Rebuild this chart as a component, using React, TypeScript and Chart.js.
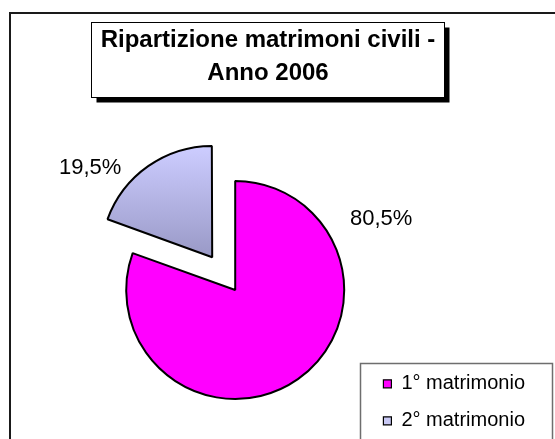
import React, { useEffect, useRef } from 'react';
import { Chart, registerables } from 'chart.js';

Chart.register(...registerables);

// ---- data ----
const categories = ['1° matrimonio', '2° matrimonio'];
const shares = [80.5, 19.5];
const titleLines = ['Ripartizione matrimoni civili -', 'Anno 2006'];

// ---- style ----
const FONT = "'Liberation Sans', Arial, Helvetica, sans-serif";
const RADIUS = 109;
const sliceOffsets = [0, 160];
const mainColor = '#ff00ff';
const gradientStops = ['#ccccff', '#9999c6'];
const legendSwatch = ['#ff00ff', '#c8c8f4'];
const labelAngles = [63.9, 306.3]; // degrees clockwise from 12 o'clock
const labelGaps = [53.6, 42.4]; // px beyond the outer radius

const TITLE_SIZE = 24;
const TITLE_LH = 33;
const TITLE_PAD_TOP = 24.2;
const TITLE_PAD_BOTTOM = 50.8;
const TITLE_CENTER = 268;
const TITLE_HALF = 210;
const LEGEND_PAD = 17;

const fmt = (v: number) => v.toFixed(1).replace('.', ',') + '%';

const decorations = {
  id: 'decorations',
  afterLayout(chart: any) {
    const tb = chart.titleBlock;
    if (tb) {
      tb.left = TITLE_CENTER - TITLE_HALF;
      tb.right = TITLE_CENTER + TITLE_HALF;
      tb.width = tb.right - tb.left;
    }
  },
  beforeDraw(chart: any) {
    const ctx = chart.ctx as CanvasRenderingContext2D;
    ctx.save();
    ctx.fillStyle = '#ffffff';
    ctx.fillRect(0, 0, chart.width, chart.height);

    // outer frame (cropped at right / bottom)
    ctx.strokeStyle = '#1a1a1a';
    ctx.lineWidth = 2;
    ctx.strokeRect(10, 13, chart.width + 40, chart.height + 40);

    // title box with shadow
    const tb = chart.titleBlock;
    if (tb) {
      ctx.font = `bold ${TITLE_SIZE}px ${FONT}`;
      const w = Math.max(...titleLines.map((t) => ctx.measureText(t).width));
      const cx = (tb.left + tb.right) / 2;
      const firstMid = tb.top + TITLE_PAD_TOP + TITLE_LH / 2;
      const left = Math.round(cx - w / 2 - 10) + 0.5;
      const right = Math.round(cx + w / 2 + 9) + 0.5;
      const top = Math.round(firstMid - 19) + 0.5;
      const bottom = Math.round(firstMid + TITLE_LH * (titleLines.length - 1) + 23) + 0.5;
      ctx.fillStyle = '#000';
      ctx.fillRect(left + 5, top + 5, right - left, bottom - top);
      ctx.fillStyle = '#fff';
      ctx.fillRect(left, top, right - left, bottom - top);
      ctx.lineWidth = 1;
      ctx.strokeStyle = '#000';
      ctx.strokeRect(left, top, right - left, bottom - top);
    }

    // legend frame
    const lg = chart.legend;
    if (lg && lg.legendHitBoxes && lg.legendHitBoxes.length) {
      const hb = lg.legendHitBoxes;
      const l = Math.round(hb[0].left - 23) + 0.5;
      const t = Math.round(hb[0].top - 11) + 0.5;
      const r = Math.round(Math.max(...hb.map((h: any) => h.left + h.width)) + 27) + 0.5;
      ctx.strokeStyle = '#6e6e6e';
      ctx.lineWidth = 1.5;
      ctx.strokeRect(l, t, r - l, chart.height + 20 - t);
    }
    ctx.restore();
  },
};

const pctLabels = {
  id: 'pctLabels',
  afterDatasetsDraw(chart: any) {
    const meta = chart.getDatasetMeta(0);
    const values = chart.data.datasets[0].data as number[];
    const ctx = chart.ctx as CanvasRenderingContext2D;
    ctx.save();
    ctx.font = `22px ${FONT}`;
    ctx.fillStyle = '#000';
    ctx.textAlign = 'center';
    ctx.textBaseline = 'middle';
    meta.data.forEach((arc: any, i: number) => {
      const p = arc.getProps(['x', 'y', 'startAngle', 'endAngle', 'outerRadius'], true);
      const mid = (p.startAngle + p.endAngle) / 2;
      const shift = (sliceOffsets[i] || 0) / 4;
      const cx = p.x + Math.cos(mid) * shift;
      const cy = p.y + Math.sin(mid) * shift;
      const a = ((labelAngles[i] - 90) * Math.PI) / 180;
      const r = p.outerRadius + labelGaps[i];
      ctx.fillText(fmt(values[i]), cx + Math.cos(a) * r, cy + Math.sin(a) * r);
    });
    ctx.restore();
  },
};

export default function App() {
  const ref = useRef<HTMLCanvasElement>(null);

  useEffect(() => {
    if (!ref.current) return;
    const chart = new Chart(ref.current, {
      type: 'pie',
      data: {
        labels: categories,
        datasets: [
          {
            data: shares,
            backgroundColor: (c: any) => {
              if (c.dataIndex === 0) return mainColor;
              const ch = c.chart;
              const area = ch.chartArea;
              if (!area) return legendSwatch[1];
              const cy = (area.top + area.bottom) / 2;
              const g = ch.ctx.createLinearGradient(0, cy - RADIUS, 0, cy);
              g.addColorStop(0, gradientStops[0]);
              g.addColorStop(1, gradientStops[1]);
              return g;
            },
            borderColor: '#000',
            borderWidth: 2,
            offset: sliceOffsets,
            clip: false,
          } as any,
        ],
      },
      options: {
        responsive: false,
        animation: false,
        events: [],
        radius: RADIUS,
        layout: { padding: { top: 0, left: 104, right: 20, bottom: -8.8 } },
        plugins: {
          title: {
            display: true,
            text: titleLines,
            color: '#000',
            font: { family: FONT, size: TITLE_SIZE, weight: 'bold', lineHeight: TITLE_LH / TITLE_SIZE },
            padding: { top: TITLE_PAD_TOP, bottom: TITLE_PAD_BOTTOM },
          },
          legend: {
            display: true,
            position: 'right',
            align: 'end',
            labels: {
              boxWidth: 8,
              boxHeight: 8,
              padding: LEGEND_PAD,
              color: '#000',
              font: { family: FONT, size: 20 },
              generateLabels: (ch: any) => {
                const items = (Chart as any).overrides.doughnut.plugins.legend.labels.generateLabels(ch);
                return items.map((it: any, i: number) => ({
                  ...it,
                  fillStyle: legendSwatch[i],
                  strokeStyle: '#000',
                  lineWidth: 1.2,
                }));
              },
            },
          },
          tooltip: { enabled: false },
        },
      } as any,
      plugins: [decorations, pctLabels],
    });
    return () => chart.destroy();
  }, []);

  return (
    <canvas
      ref={ref}
      width={555}
      height={439}
      style={{ position: 'absolute', left: 0, top: 0, display: 'block' }}
    />
  );
}
